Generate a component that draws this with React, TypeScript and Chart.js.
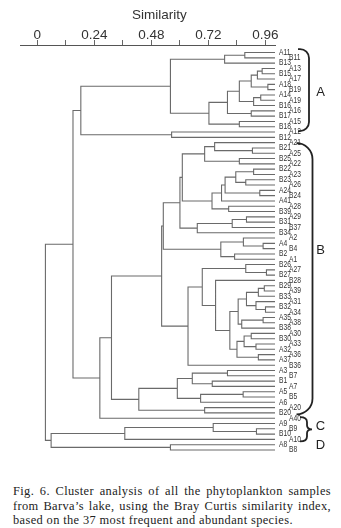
import React, { useEffect, useRef } from "react";
import { Chart, registerables } from "chart.js";

Chart.register(...registerables);

// Leaves, top to bottom (two staggered label columns in the figure)
const leafLabels = [
  "A11", "B11", "B13", "A13", "B15", "A17", "A18", "B19", "A14", "A19",
  "B16", "A16", "B17", "A15", "B18", "A12", "B12", "A21", "B21", "A25",
  "B25", "A22", "B22", "A23", "B23", "A26", "A24", "B24", "A41", "A28",
  "B39", "A29", "B31", "B37", "B34", "A2", "A4", "B4", "B2", "A1",
  "B26", "A27", "B27", "B28", "B29", "A39", "B33", "A31", "B32", "A34",
  "A35", "A38", "B38", "A30", "B30", "A33", "A32", "A36", "A37", "B36",
  "A3", "B7", "B1", "A7", "A5", "B5", "A6", "A20", "B20", "A40",
  "A9", "B9", "B10", "A10", "A8", "B8",
];

// Merges: [cluster name, child 1, child 2, similarity]
const merges: [string, string, string, number][] = [
  ["a1", "A11", "B11", 0.873],
  ["a2", "a1", "B13", 0.788],
  ["a3", "A13", "B15", 0.946],
  ["a4", "a3", "A17", 0.926],
  ["a5", "A18", "B19", 0.97],
  ["a6", "a4", "a5", 0.9],
  ["a7", "A14", "A19", 0.94],
  ["a8", "a7", "B16", 0.91],
  ["a9", "a6", "a8", 0.85],
  ["a10", "A16", "B17", 0.9],
  ["a11", "a9", "a10", 0.8],
  ["a12", "A15", "B18", 0.85],
  ["a13", "a11", "a12", 0.722],
  ["a14", "a2", "a13", 0.56],
  ["a15", "A12", "B12", 0.565],
  ["a16", "a14", "a15", 0.183],
  ["q1", "B21", "A25", 0.905],
  ["q2", "A21", "q1", 0.746],
  ["q3", "B25", "A22", 0.85],
  ["q4", "q2", "q3", 0.704],
  ["r1", "B22", "A23", 0.91],
  ["r2", "B23", "A26", 0.877],
  ["r3", "r1", "r2", 0.835],
  ["r4", "A24", "B24", 0.936],
  ["r5", "r3", "r4", 0.79],
  ["r6", "r5", "A41", 0.775],
  ["r7", "A28", "B39", 0.805],
  ["r8", "r6", "r7", 0.735],
  ["n1", "q4", "r8", 0.61],
  ["s1", "A29", "B31", 0.88],
  ["s2", "s1", "B37", 0.82],
  ["s3", "s2", "B34", 0.673],
  ["n2", "n1", "s3", 0.6],
  ["ab1", "A4", "B4", 0.95],
  ["ab2", "A2", "ab1", 0.867],
  ["ab3", "B2", "A1", 0.83],
  ["ab4", "ab2", "ab3", 0.772],
  ["t", "n2", "ab4", 0.53],
  ["wa1", "A27", "B27", 0.964],
  ["wa2", "B26", "wa1", 0.877],
  ["wc1", "B29", "A39", 0.955],
  ["wc2", "wc1", "B33", 0.93],
  ["wc3", "B32", "A34", 0.96],
  ["wc4", "A31", "wc3", 0.92],
  ["wc5", "wc2", "wc4", 0.88],
  ["wc6", "A35", "A38", 0.95],
  ["wc7", "wc6", "B38", 0.86],
  ["wc8", "wc5", "wc7", 0.845],
  ["wc9", "A30", "B30", 0.9],
  ["wc10", "A33", "A32", 0.92],
  ["wc11", "wc9", "wc10", 0.87],
  ["wc12", "A36", "A37", 0.93],
  ["wc13", "wc11", "wc12", 0.84],
  ["wc14", "wc8", "wc13", 0.81],
  ["wb", "B28", "wc14", 0.75],
  ["w1", "wa2", "wb", 0.694],
  ["w", "w1", "B36", 0.634],
  ["v", "t", "w", 0.523],
  ["x1", "A3", "B7", 0.8],
  ["x2", "B1", "A7", 0.736],
  ["x3", "x1", "x2", 0.652],
  ["x4", "A5", "B5", 0.866],
  ["x5", "x4", "A6", 0.687],
  ["x6", "x3", "x5", 0.589],
  ["x7", "A20", "B20", 0.704],
  ["x8", "x6", "x7", 0.427],
  ["y1", "v", "x8", 0.312],
  ["y2", "y1", "A40", 0.263],
  ["y3", "a16", "y2", 0.15],
  ["c1", "B9", "B10", 0.922],
  ["c2", "A9", "c1", 0.74],
  ["c3", "c2", "A10", 0.368],
  ["d1", "A8", "B8", 0.56],
  ["cd", "c3", "d1", 0.058],
  ["root", "y3", "cd", 0.034],
];

const tickValues = [0, 0.12, 0.24, 0.36, 0.48, 0.6, 0.72, 0.84, 0.96];
const tickLabels = ["0", "", "0.24", "", "0.48", "", "0.72", "", "0.96"];
const axisTitle = "Similarity";
const axisTitleAt = 0.513; // similarity value under the title's centre

// Group brackets: first leaf, last leaf, letter, letter position (leaf index)
const groupLetters = ["A", "B", "C", "D"];
const groupFirst = ["A11", "A21", "A40", ""];
const groupLast = ["A12", "B20", "A10", ""];
const groupLetterAt = [7.5, 37.3, 70.6, 74.2];

const captionLines = [
  "Fig. 6. Cluster analysis of all the phytoplankton samples",
  "from Barva\u2019s lake, using the Bray Curtis similarity index,",
  "based on the 37 most frequent and abundant species.",
];

const SANS = '"Liberation Sans", Arial, Helvetica, sans-serif';

function buildSegments() {
  const pos: Record<string, { x: number; y: number }> = {};
  leafLabels.forEach((l, i) => (pos[l] = { x: 1, y: i }));
  const pts: { x: number; y: number | null }[] = [];
  for (const [name, a, b, s] of merges) {
    const pa = pos[a];
    const pb = pos[b];
    pts.push({ x: pa.x, y: pa.y }, { x: s, y: pa.y }, { x: s, y: pb.y }, { x: pb.x, y: pb.y }, { x: s, y: null });
    pos[name] = { x: s, y: (pa.y + pb.y) / 2 };
  }
  return pts;
}

const annotPlugin = {
  id: "annot",
  afterDraw(chart: any) {
    const { ctx, chartArea, scales } = chart;
    const ys = scales.y;
    const xs = scales.x;
    ctx.save();

    // axis title
    ctx.font = `13.5px ${SANS}`;
    ctx.fillStyle = "#333";
    ctx.textAlign = "center";
    ctx.textBaseline = "alphabetic";
    ctx.fillText(axisTitle, xs.getPixelForValue(axisTitleAt), 19.3);

    // leaf labels (condensed)
    ctx.font = `8.4px ${SANS}`;
    ctx.fillStyle = "#333";
    ctx.textBaseline = "middle";
    ctx.textAlign = "left";
    leafLabels.forEach((l, i) => {
      const x = chartArea.right + (i % 2 === 0 ? 4 : 14);
      const y = ys.getPixelForValue(i);
      ctx.save();
      ctx.translate(x, y);
      ctx.scale(0.8, 1);
      ctx.fillText(l, 0, 0);
      ctx.restore();
    });

    ctx.strokeStyle = "#222";
    ctx.lineWidth = 1.8;
    const idx = (l: string) => leafLabels.indexOf(l);
    const drawBracket = (yt: number, yb: number, xl: number, xr: number, r: number) => {
      ctx.beginPath();
      ctx.moveTo(xl, yt);
      ctx.arcTo(xr, yt, xr, yb, r);
      ctx.arcTo(xr, yb, xl, yb, r);
      ctx.lineTo(xl, yb);
      ctx.stroke();
    };
    const R = chartArea.right;
    {
      const yt = ys.getPixelForValue(idx(groupFirst[0])) - 3.5;
      const yb = ys.getPixelForValue(idx(groupLast[0])) - 1;
      drawBracket(yt, yb, R + 23, R + 34, 9);
    }
    {
      const yt = ys.getPixelForValue(idx(groupFirst[1])) + 0.5;
      const yb = ys.getPixelForValue(idx(groupLast[1])) + 1.5;
      drawBracket(yt, yb, R + 24, R + 37.5, 16);
    }
    {
      const yt = ys.getPixelForValue(idx(groupFirst[2])) - 1;
      const yb = ys.getPixelForValue(idx(groupLast[2])) + 2;
      const ym = (yt + yb) / 2;
      const xl = R + 25;
      const xv = R + 32;
      const xp = R + 37;
      ctx.beginPath();
      ctx.moveTo(xl, yt);
      ctx.quadraticCurveTo(xv, yt, xv, yt + 5);
      ctx.lineTo(xv, ym - 4);
      ctx.quadraticCurveTo(xv, ym, xp, ym);
      ctx.quadraticCurveTo(xv, ym, xv, ym + 4);
      ctx.lineTo(xv, yb - 5);
      ctx.quadraticCurveTo(xv, yb, xl, yb);
      ctx.stroke();
    }
    ctx.font = `13px ${SANS}`;
    ctx.fillStyle = "#222";
    ctx.textAlign = "center";
    ctx.textBaseline = "middle";
    groupLetters.forEach((g, i) => {
      ctx.fillText(g, R + 45.5, ys.getPixelForValue(groupLetterAt[i]));
    });
    ctx.restore();
  },
};

export default function App() {
  const ref = useRef<HTMLCanvasElement | null>(null);
  useEffect(() => {
    if (!ref.current) return;
    const chart = new Chart(ref.current, {
      type: "line",
      data: {
        datasets: [
          {
            data: buildSegments() as any,
            borderColor: "#6a6a6a",
            borderWidth: 1.1,
            pointRadius: 0,
            spanGaps: false,
            tension: 0,
          },
        ],
      },
      options: {
        responsive: false,
        animation: false,
        events: [],
        layout: { padding: { left: 20.7, right: 66, top: 29.8, bottom: 14.7 } },
        plugins: { legend: { display: false }, tooltip: { enabled: false } },
        scales: {
          x: {
            type: "linear",
            position: "top",
            min: -0.07,
            max: 1.0,
            afterBuildTicks: (axis: any) => {
              axis.ticks = tickValues.map((v) => ({ value: v }));
            },
            ticks: {
              autoSkip: false,
              maxRotation: 0,
              padding: -3,
              color: "#333",
              font: { family: SANS, size: 13.5 },
              callback: (_v: any, i: number) => tickLabels[i],
            },
            grid: { drawOnChartArea: false, tickLength: 5, color: "#666" },
            border: { color: "#555", width: 1 },
            title: { display: false },
          },
          y: {
            type: "linear",
            display: false,
            reverse: true,
            min: -1.426,
            max: 76,
          },
        },
      },
      plugins: [annotPlugin],
    });
    return () => chart.destroy();
  }, []);

  return (
    <div style={{ position: "absolute", left: 0, top: 0, width: 341, height: 528, background: "#fff" }}>
      <canvas ref={ref} width={341} height={470} style={{ position: "absolute", left: 0, top: 0, width: 341, height: 470 }} />
      <div
        style={{
          position: "absolute",
          left: 13,
          top: 484,
          width: 318,
          fontFamily: '"Liberation Serif", "Times New Roman", serif',
          fontSize: 12.4,
          letterSpacing: 0.38,
          lineHeight: "14.5px",
          color: "#222",
        }}
      >
        {captionLines.map((t, i) => (
          <div key={i} style={{ textAlign: i < 2 ? "justify" : "left", textAlignLast: i < 2 ? "justify" : "left", whiteSpace: "nowrap" } as any}>
            {t}
          </div>
        ))}
      </div>
    </div>
  );
}
